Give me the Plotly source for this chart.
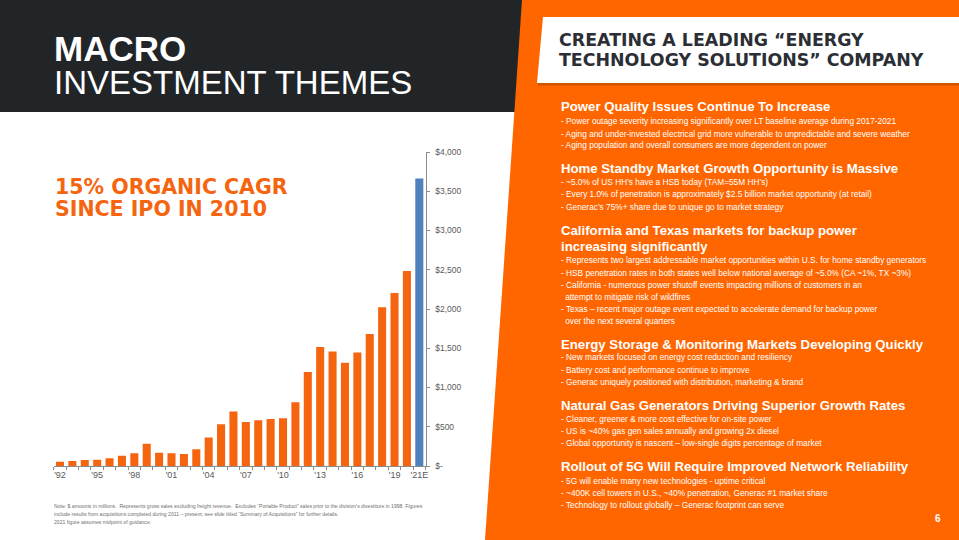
import plotly.graph_objects as go

# ---------------- data ----------------
years = ["'92", "'93", "'94", "'95", "'96", "'97", "'98", "'99", "'00", "'01",
         "'02", "'03", "'04", "'05", "'06", "'07", "'08", "'09", "'10", "'11",
         "'12", "'13", "'14", "'15", "'16", "'17", "'18", "'19", "'20", "'21E"]
sales = [55, 64, 77, 81, 98, 132, 162, 285, 170, 162,
         153, 213, 362, 532, 694, 562, 583, 600, 609, 813,
         1196, 1515, 1460, 1315, 1447, 1681, 2021, 2204, 2485, 3664]
shown_year_labels = ["'92", "'95", "'98", "'01", "'04", "'07", "'10", "'13", "'16", "'19", "'21E"]
y_tick_values = [0, 500, 1000, 1500, 2000, 2500, 3000, 3500, 4000]
y_tick_labels = ["$-", "$500", "$1,000", "$1,500", "$2,000", "$2,500", "$3,000", "$3,500", "$4,000"]

title_bold = "MACRO"
title_light = "INVESTMENT THEMES"
banner_lines = ["CREATING A LEADING \u201cENERGY", "TECHNOLOGY SOLUTIONS\u201d COMPANY"]
cagr_lines = ["15% ORGANIC CAGR", "SINCE IPO IN 2010"]

sections = [
    (["Power Quality Issues Continue To Increase"],
     ["- Power outage severity increasing significantly over LT baseline average during 2017-2021",
      "- Aging and under-invested electrical grid more vulnerable to unpredictable and severe weather",
      "- Aging population and overall consumers are more dependent on power"]),
    (["Home Standby Market Growth Opportunity is Massive"],
     ["- ~5.0% of US HH\u2019s have a HSB today (TAM=55M HH\u2019s)",
      "- Every 1.0% of penetration is approximately $2.5 billion market opportunity (at retail)",
      "- Generac\u2019s 75%+ share due to unique go to market strategy"]),
    (["California and Texas markets for backup power", "increasing significantly"],
     ["- Represents two largest addressable market opportunities within U.S. for home standby generators",
      "- HSB penetration rates in both states well below national average of ~5.0% (CA ~1%, TX ~3%)",
      "- California - numerous power shutoff events impacting millions of customers in an",
      "  attempt to mitigate risk of wildfires",
      "- Texas \u2013 recent major outage event expected to accelerate demand for backup power",
      "  over the next several quarters"]),
    (["Energy Storage & Monitoring Markets Developing Quickly"],
     ["- New markets focused on energy cost reduction and resiliency",
      "- Battery cost and performance continue to improve",
      "- Generac uniquely positioned with distribution, marketing & brand"]),
    (["Natural Gas Generators Driving Superior Growth Rates"],
     ["- Cleaner, greener & more cost effective for on-site power",
      "- US is ~40% gas gen sales annually and growing 2x diesel",
      "- Global opportunity is nascent \u2013 low-single digits percentage of market"]),
    (["Rollout of 5G Will Require Improved Network Reliability"],
     ["- 5G will enable many new technologies - uptime critical",
      "- ~400K cell towers in U.S., ~40% penetration, Generac #1 market share",
      "- Technology to rollout globally \u2013 Generac footprint can serve"]),
]
note_lines = [
    "Note: $ amounts in millions.  Represents gross sales excluding freight revenue.  Excludes \u201cPortable Product\u201d sales prior to the division\u2019s divestiture in 1998. Figures",
    "include results from acquisitions completed during 2011 \u2013 present; see slide titled \u201cSummary of Acquisitions\u201d for further details.",
    "2021 figure assumes midpoint of guidance.",
]
page_number = "6"

# ---------------- styling / layout ----------------
W, H = 959, 540
def px(x):
    return x / W
def py(y):
    return 1 - y / H

ORANGE = "#FF6600"
BAR_ORANGE = "#F5650F"
BAR_BLUE = "#4F81BD"
DARK = "#222528"
AXIS_GREY = "#8C8C8C"
SANS = "Liberation Sans, Arial, sans-serif"
WIDE = "DejaVu Sans, Liberation Sans, sans-serif"

bar_colors = [BAR_BLUE if y.endswith("E") else BAR_ORANGE for y in years]
tick_text = [y if y in shown_year_labels else "" for y in years]

fig = go.Figure(go.Bar(
    x=years, y=sales, marker=dict(color=bar_colors, line=dict(width=0)),
    hoverinfo="x+y",
))

def poly(points):
    return "M " + " L ".join(f"{px(a):.5f},{py(b):.5f}" for a, b in points) + " Z"

shapes = [
    dict(type="path", xref="paper", yref="paper", layer="below", line=dict(width=0),
         fillcolor=DARK, path=poly([(0, 0), (525, 0), (517, 112), (0, 112)])),
    dict(type="path", xref="paper", yref="paper", layer="below", line=dict(width=0),
         fillcolor=ORANGE, path=poly([(522, 0), (959, 0), (959, 540), (485, 540)])),
    dict(type="path", xref="paper", yref="paper", layer="below", line=dict(width=0),
         fillcolor="rgba(120,50,0,0.35)", path=poly([(544, 19), (959, 19), (959, 85.5), (538, 85.5)])),
    dict(type="path", xref="paper", yref="paper", layer="below", line=dict(width=0),
         fillcolor="#FFFFFF", path=poly([(543, 17), (959, 17), (959, 83), (537, 83)])),
]

ann = []
def text(x, y, s, size, color, family, bold=False, anchor="left"):
    ann.append(dict(x=px(x), y=py(y), xref="paper", yref="paper", text=s, showarrow=False,
                    xanchor=anchor, yanchor="middle",
                    font=dict(size=size, color=color, family=family,
                              weight="bold" if bold else "normal")))

text(52, 48, title_bold, 35, "#FFFFFF", SANS, bold=True)
text(52, 82, title_light, 33, "#FFFFFF", SANS)
text(557, 40, banner_lines[0], 17.4, "#2B2E35", WIDE, bold=True)
text(557, 60, banner_lines[1], 17.4, "#2B2E35", WIDE, bold=True)
text(53, 187, cagr_lines[0], 20.5, BAR_ORANGE, WIDE, bold=True)
text(53, 209, cagr_lines[1], 20.5, BAR_ORANGE, WIDE, bold=True)

head_y = [[106.7], [169], [230.5, 246.5], [344], [405], [466.7]]
body_y = [[121.5, 133.5, 145.2], [182, 194.2, 206.5],
          [260, 272.5, 285, 297, 309, 321],
          [357.3, 369.5, 381.7], [419.3, 431.2, 443.2], [480.8, 492.8, 504.5]]
for (heads, bodies), hy, by in zip(sections, head_y, body_y):
    for s, y in zip(heads, hy):
        text(559, y, s, 13.2, "#FFFFFF", SANS, bold=True)
    for s, y in zip(bodies, by):
        text(559, y, s.replace("  ", "\u2002"), 8.3, "#FFFFFF", SANS)

text(943, 518.5, page_number, 10, "#FFFFFF", SANS, bold=True, anchor="right")
for s, y in zip(note_lines, [505.7, 514, 522.3]):
    text(52, y, s, 5.1, "#6E6E6E", SANS)

fig.update_layout(
    width=W, height=H, margin=dict(l=0, r=0, t=0, b=0, pad=0, autoexpand=False),
    paper_bgcolor="#FFFFFF", plot_bgcolor="rgba(0,0,0,0)",
    showlegend=False, bargap=0.35, shapes=shapes, annotations=ann,
    xaxis=dict(domain=[px(53.8), px(425.5)], type="category", range=[-0.5, len(years) - 0.5],
               tickmode="array", tickvals=years, ticktext=tick_text, tickangle=0,
               showline=True, linecolor=AXIS_GREY, linewidth=1, automargin=False,
               ticks="outside", tickson="boundaries", ticklen=3, tickcolor=AXIS_GREY,
               tickfont=dict(size=9, color="#595959", family=SANS),
               showgrid=False, zeroline=False, fixedrange=True),
    yaxis=dict(domain=[py(466), py(152)], side="right", range=[0, 4000],
               tickmode="array", tickvals=y_tick_values, ticktext=y_tick_labels,
               showline=True, linecolor=AXIS_GREY, linewidth=1, automargin=False,
               ticks="outside", ticklen=3, tickcolor=AXIS_GREY, ticklabelstandoff=4,
               tickfont=dict(size=8.5, color="#595959", family=SANS),
               showgrid=False, zeroline=False, fixedrange=True),
)

page_fix = "document.body.style.margin='0';document.body.style.overflow='hidden';"
fig.write_html("out.html", post_script=page_fix, config={"displayModeBar": False})
